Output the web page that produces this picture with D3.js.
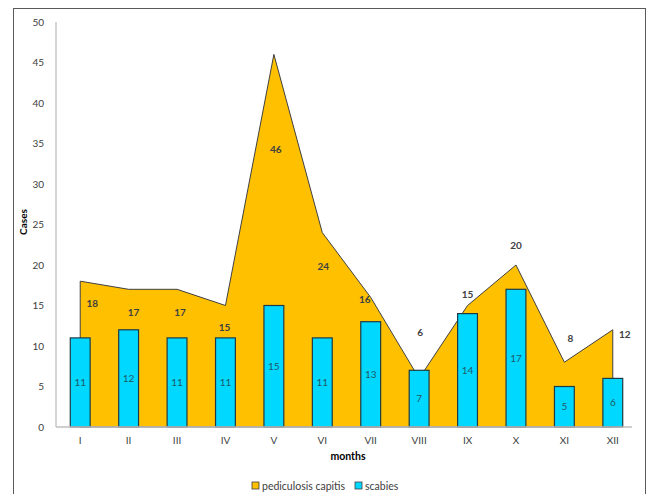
<!DOCTYPE html>
<html lang="en">
<head>
<meta charset="UTF-8">
<title>Cases by month</title>
<style>
  body { margin: 0; background: #fff; }
  svg { display: block; font-family: Lato, "Open Sans", sans-serif; }
</style>
</head>
<body>
<div id="chart"></div>
<script src="https://d3js.org/d3.v7.min.js"></script>
<script>
const months = ["I", "II", "III", "IV", "V", "VI", "VII", "VIII", "IX", "X", "XI", "XII"];
const pediculosis = [18, 17, 17, 15, 46, 24, 16, 6, 15, 20, 8, 12];
const scabies = [11, 12, 11, 11, 15, 11, 13, 7, 14, 17, 5, 6];
const yTicks = [0, 5, 10, 15, 20, 25, 30, 35, 40, 45, 50];

// label nudges for the area labels (px), as placed in the original
const pedLabelDx = [12, 5, 3, -1, 2, 1, -6, 1, 0, 0, 6, 12];
const pedLabelDy = [26, 27, 27, 25, 99, 37, 6, -42, -8, -16, -20, 8];

const width = 650, height = 494;
const margin = { top: 22, right: 13, bottom: 67, left: 56 };

const svg = d3.select("#chart").append("svg")
    .attr("width", width)
    .attr("height", height);

// outer frame
svg.append("rect")
    .attr("x", 13.5).attr("y", 8.5)
    .attr("width", 632).attr("height", 500)
    .attr("fill", "none")
    .attr("stroke", "#595959")
    .attr("stroke-width", 1);

const x = d3.scaleBand()
    .domain(months)
    .range([margin.left, width - margin.right]);

const y = d3.scaleLinear()
    .domain([0, 50])
    .range([height - margin.bottom, margin.top]);

const cx = d => x(d) + x.bandwidth() / 2;

// area for pediculosis capitis
const area = d3.area()
    .x((d, i) => cx(months[i]))
    .y0(y(0))
    .y1(d => y(d));

svg.append("path")
    .datum(pediculosis)
    .attr("d", area)
    .attr("fill", "#FFC000")
    .attr("stroke", "#404040")
    .attr("stroke-width", 1);

// bars for scabies
const barW = x.bandwidth() * 0.41;
svg.selectAll(".bar")
    .data(scabies)
    .enter()
    .append("rect")
    .attr("class", "bar")
    .attr("x", (d, i) => cx(months[i]) - barW / 2)
    .attr("y", d => y(d))
    .attr("width", barW)
    .attr("height", d => y(0) - y(d))
    .attr("fill", "#00D8FF")
    .attr("stroke", "#1f3a44")
    .attr("stroke-width", 1.2);

// axes
svg.append("line")
    .attr("x1", margin.left).attr("x2", margin.left)
    .attr("y1", y(50)).attr("y2", y(0))
    .attr("stroke", "#bfbfbf").attr("stroke-width", 1.3);

svg.append("line")
    .attr("x1", margin.left).attr("x2", width - margin.right - 5)
    .attr("y1", y(0)).attr("y2", y(0))
    .attr("stroke", "#bfbfbf").attr("stroke-width", 1.3);

svg.selectAll(".ytick")
    .data(yTicks)
    .enter()
    .append("text")
    .attr("class", "ytick")
    .attr("x", margin.left - 12)
    .attr("y", d => y(d))
    .attr("dy", "0.35em")
    .attr("text-anchor", "end")
    .style("font-size", "10px")
    .style("fill", "#404040")
    .text(d => d);

svg.selectAll(".xtick")
    .data(months)
    .enter()
    .append("text")
    .attr("class", "xtick")
    .attr("x", d => cx(d))
    .attr("y", y(0) + 17)
    .attr("text-anchor", "middle")
    .style("font-size", "10px")
    .style("fill", "#404040")
    .text(d => d);

// value labels
svg.selectAll(".plabel")
    .data(pediculosis)
    .enter()
    .append("text")
    .attr("class", "plabel")
    .attr("x", (d, i) => cx(months[i]) + pedLabelDx[i])
    .attr("y", (d, i) => y(d) + pedLabelDy[i])
    .attr("text-anchor", "middle")
    .style("font-size", "10px")
    .style("font-weight", "bold")
    .style("fill", "#404040")
    .text(d => d);

svg.selectAll(".slabel")
    .data(scabies)
    .enter()
    .append("text")
    .attr("class", "slabel")
    .attr("x", (d, i) => cx(months[i]))
    .attr("y", d => (y(d) + y(0)) / 2)
    .attr("dy", "0.35em")
    .attr("text-anchor", "middle")
    .style("font-size", "10px")
    .style("fill", "#1f5866")
    .text(d => d);

// axis titles
svg.append("text")
    .attr("transform", "translate(27, 222) rotate(-90)")
    .attr("text-anchor", "middle")
    .style("font-size", "10px")
    .style("font-weight", "bold")
    .style("fill", "#000")
    .text("Cases");

svg.append("text")
    .attr("x", 348).attr("y", 460)
    .attr("text-anchor", "middle")
    .style("font-size", "10.5px")
    .style("font-weight", "bold")
    .style("fill", "#000")
    .text("months");

// legend
const legendItems = [
    { name: "pediculosis capitis", color: "#FFC000", x: 252 },
    { name: "scabies", color: "#00D8FF", x: 355 }
];
const lg = svg.selectAll(".legend")
    .data(legendItems)
    .enter()
    .append("g")
    .attr("class", "legend")
    .attr("transform", d => `translate(${d.x}, 482)`);

lg.append("rect")
    .attr("width", 7).attr("height", 7)
    .attr("fill", d => d.color)
    .attr("stroke", "#404040")
    .attr("stroke-width", 0.8);

lg.append("text")
    .attr("x", 10).attr("y", 7.5)
    .style("font-size", "10.5px")
    .style("fill", "#404040")
    .text(d => d.name);
</script>
</body>
</html>
